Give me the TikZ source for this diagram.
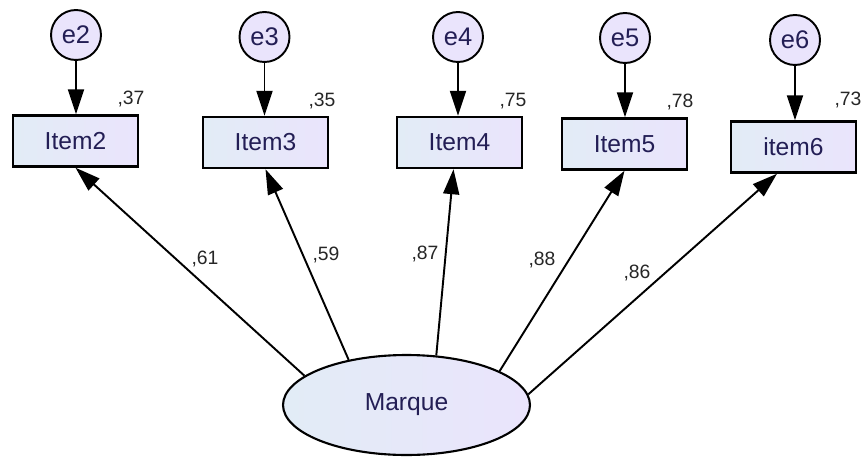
\documentclass[tikz,border=0pt]{standalone}
\usepackage{fontspec}
\setmainfont{Liberation Sans}
\usetikzlibrary{shapes,arrows.meta,positioning,calc}
\definecolor{ink}{RGB}{35,30,85}
\definecolor{boxl}{RGB}{226,236,246}
\definecolor{boxr}{RGB}{234,228,252}
\tikzset{
  item/.style={draw, rectangle, line width=1.4pt, minimum width=2.5cm, minimum height=1.02cm, inner sep=0pt,
    left color=boxl, right color=boxr, text=ink, font=\fontsize{14}{16}\selectfont},
  err/.style={draw, circle, line width=1.1pt, minimum size=1cm, inner sep=0pt,
    fill=boxr, text=ink, font=\fontsize{14.5}{16}\selectfont},
  factor/.style={draw, ellipse, line width=1.2pt, minimum width=4.94cm, minimum height=2cm, inner sep=0pt,
    left color=boxl, right color=boxr, text=ink, font=\fontsize{14}{16}\selectfont},
  coef/.style={inner sep=0pt, text=black!85, font=\fontsize{11}{13}\selectfont},
  load/.style={-{Triangle[length=5mm,width=3.2mm]}, line width=1.1pt},
  errpath/.style={-{Triangle[length=5mm,width=3.2mm]}, line width=1.1pt}
}
\begin{document}
\begin{tikzpicture}[x=0.02cm, y=-0.02cm]
    \useasboundingbox (0,0) rectangle (864,459);

    % latent factor
    \node[factor] (m) at (406.5,405) {Marque};

    % observed items
    \node[item] (i2) at (75.5,141) {Item2};
    \node[item] (i3) at (265.5,142.5) {Item3};
    \node[item] (i4) at (459.5,142.5) {Item4};
    \node[item] (i5) at (624.5,144) {Item5};
    \node[item] (i6) at (793.5,147) {item6};

    % error terms
    \node[err] (e2) at (76,35) {e2};
    \node[err] (e3) at (264.5,37) {e3};
    \node[err] (e4) at (458,37) {e4};
    \node[err] (e5) at (625,38) {e5};
    \node[err] (e6) at (795,40) {e6};
    \foreach \k in {2,...,6}
        \draw[errpath] (e\k) -- (e\k |- i\k.north);

    % squared multiple correlations
    \node[coef] (r2) at (131,99) {,37};
    \node[coef] (r3) at (322,101) {,35};
    \node[coef] (r4) at (513,101) {,75};
    \node[coef] (r5) at (680,102) {,78};
    \node[coef] (r6) at (848,100) {,73};

    % loadings
    \draw[load] (m.164) -- (i2.south);
    \draw[load] (m.142) -- (i3.south);
    \draw[load] (m.59) -- ([xshift=-1.2mm]i4.south);
    \draw[load] (m.20) -- (i5.south);
    \draw[load] (m.5) -- ([xshift=-3.3mm]i6.south);
    \node[coef] (l2) at (205,259) {,61};
    \node[coef] (l3) at (326,255) {,59};
    \node[coef] (l4) at (425,254) {,87};
    \node[coef] (l5) at (542,260) {,88};
    \node[coef] (l6) at (637,273) {,86};
\end{tikzpicture}
\end{document}
